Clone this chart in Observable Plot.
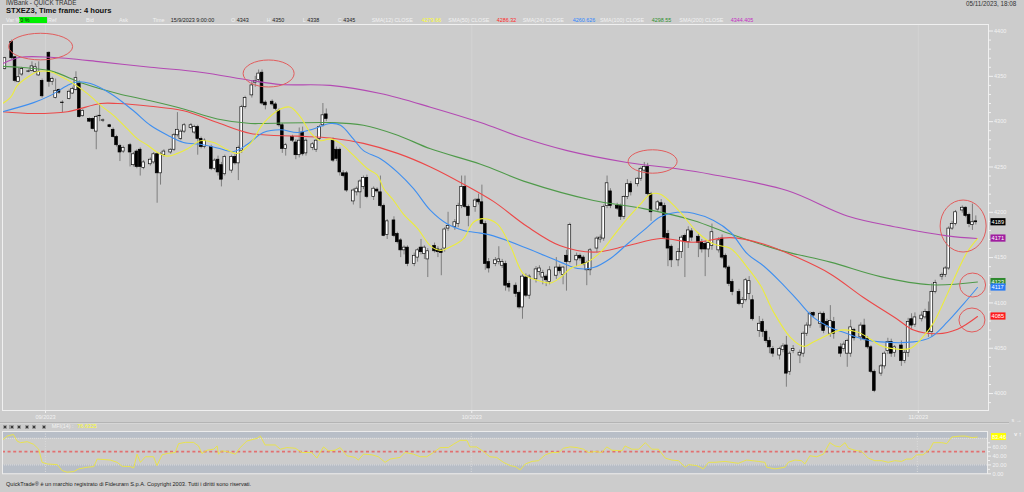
<!DOCTYPE html>
<html><head><meta charset="utf-8">
<script src="https://cdn.jsdelivr.net/npm/d3@7"></script>
<script src="https://cdn.jsdelivr.net/npm/@observablehq/plot@0.6"></script>
<style>
html,body{margin:0;padding:0;background:#cccccc;width:1024px;height:492px;overflow:hidden;font-family:"Liberation Sans",Arial,sans-serif;}
#root{position:relative;width:1024px;height:492px;}
.t{position:absolute;white-space:nowrap;line-height:1;}
.p{position:absolute;left:0;}
</style></head><body><div id="root"></div><script>
// ---------- DATA ----------
// 4-hour bar slots (6 slots per trading day), prices
const candleSlot = [0,2,3,4,5, 7,8,9,10,11, 13,14,15,16,17, 19,20,21,22,23, 25,26,27,28,29, 31,32,33,34,35, 37,38,39,40,41, 43,44,45,46,47, 49,50,51,52,53, 55,56,57,58,59, 61,62,63,64,65, 67,68,69,70,71, 73,74,75,76,77, 79,80,81,82,83, 85,86,87,88,89, 91,92,93,94,95, 97,98,99,100,101, 103,104,105,106,107, 109,110,111,112,113, 115,116,117,118,119, 121,122,123,124,125, 127,128,129,130,131, 133,134,135,136,137, 139,140,141,142,143, 145,146,147,148,149, 151,152,153,154,155, 157,158,159,160,161, 163,164,165,166,167, 169,170,171,172,173, 175,176,177,178,179, 181,182,183,184,185, 187,188,189,190,191, 193,194,195,196,197, 199,200,201,202,203, 205,206,207,208,209, 211,212,213,214,215, 217,218,219,220,221, 223,224,225,226,227, 229,230,231,232,233, 235,236,237,238,239, 241,242,243,244,245, 247,248,249,250,251, 253,254,255,256,257, 259,260,261,262,263, 265,266,267,268,269, 271,272,273,274,275, 277,278,279,280,281, 283,284,285,286,287];
const candleOpen = [4358,4388,4371,4344,4352, 4355,4356,4355,4351,4345, 4376,4344,4326,4335,4321, 4325,4331,4335,4342,4306, 4303,4303,4289,4306,4301, 4296,4291,4283,4273,4267, 4274,4252,4267,4269,4249, 4253,4255,4264,4243,4263, 4266,4269,4285,4281,4289, 4293,4288,4294,4281,4272, 4272,4248,4258,4252,4242, 4246,4261,4254,4268,4316, 4329,4343,4346,4354,4321, 4322,4319,4312,4296,4270, 4283,4277,4263,4288,4265, 4271,4269,4281,4296,4308, 4279,4269,4269,4243,4243, 4212,4222,4222,4228,4238, 4217,4225,4222,4207,4175, 4191,4176,4169,4158,4161, 4143,4150,4161,4154,4148, 4163,4159,4158,4160,4182, 4184,4187,4207,4228,4206, 4206,4214,4211,4187,4145, 4143,4145,4141,4143,4121, 4119,4111,4095,4128,4108, 4126,4134,4128,4129,4123, 4130,4139,4131,4152,4145, 4147,4152,4150,4136,4136, 4160,4170,4171,4207,4223, 4207,4207,4195,4217,4231, 4231,4237,4246,4250,4220, 4203,4210,4207,4176,4162, 4147,4156,4174,4167,4179, 4173,4167,4165,4159,4163, 4158,4171,4152,4139,4123, 4112,4099,4103,4110,4103, 4069,4079,4068,4058,4049, 4042,4048,4053,4024,4047, 4042,4044,4066,4075,4089, 4077,4088,4079,4066,4079, 4051,4049,4044,4044,4070, 4062,4075,4060,4051,4024, 4022,4030,4047,4057,4045, 4053,4036,4045,4082,4076, 4082,4084,4090,4068,4112, 4129,4131,4138,4182,4187, 4202,4205,4197,4186,4190];
const candleHigh = [4371,4390,4372,4359,4360, 4357,4366,4364,4366,4347, 4377,4349,4347,4336,4323, 4335,4338,4355,4345,4313, 4304,4304,4307,4320,4303, 4297,4293,4285,4275,4273, 4276,4266,4269,4271,4257, 4260,4266,4266,4266,4269, 4270,4287,4310,4291,4298, 4298,4296,4296,4283,4281, 4274,4259,4262,4255,4263, 4263,4264,4273,4318,4328, 4345,4350,4357,4357,4323, 4324,4321,4314,4298,4276, 4285,4280,4293,4294,4281, 4277,4281,4296,4320,4314, 4282,4272,4271,4246,4245, 4226,4228,4236,4240,4241, 4228,4227,4240,4209,4192, 4195,4178,4171,4163,4163, 4155,4160,4170,4163,4160, 4166,4162,4160,4183,4200, 4192,4210,4240,4240,4208, 4215,4220,4230,4190,4149, 4150,4162,4148,4146,4124, 4122,4113,4131,4132,4131, 4140,4141,4136,4131,4140, 4150,4142,4140,4158,4188, 4155,4154,4152,4146,4160, 4173,4175,4208,4240,4226, 4210,4209,4218,4236,4234, 4238,4250,4255,4254,4222, 4213,4214,4210,4180,4164, 4160,4174,4176,4184,4182, 4176,4170,4168,4168,4187, 4172,4175,4154,4141,4126, 4115,4106,4127,4129,4108, 4085,4082,4070,4062,4052, 4051,4055,4063,4046,4053, 4048,4068,4078,4090,4090, 4090,4090,4082,4097,4084, 4055,4057,4060,4081,4072, 4078,4082,4063,4053,4026, 4032,4046,4061,4060,4053, 4058,4048,4083,4088,4089, 4090,4093,4101,4121,4125, 4133,4140,4184,4190,4202, 4207,4206,4199,4209,4196];
const candleLow = [4357,4368,4343,4343,4350, 4354,4355,4354,4350,4326, 4338,4340,4325,4330,4310, 4324,4330,4334,4304,4305, 4299,4291,4269,4300,4299, 4293,4282,4272,4256,4265, 4250,4250,4248,4240,4247, 4251,4253,4210,4230,4261, 4264,4267,4283,4279,4287, 4291,4286,4263,4270,4270, 4246,4246,4240,4228,4240, 4243,4252,4235,4265,4314, 4326,4338,4343,4318,4313, 4317,4312,4294,4265,4262, 4277,4258,4260,4262,4262, 4268,4266,4279,4294,4300, 4255,4256,4240,4238,4222, 4208,4218,4204,4225,4215, 4213,4221,4205,4173,4170, 4172,4165,4150,4153,4140, 4140,4145,4153,4148,4128, 4155,4150,4130,4156,4179, 4180,4183,4204,4204,4184, 4200,4208,4186,4136,4133, 4140,4142,4138,4113,4112, 4106,4093,4082,4106,4104, 4122,4130,4120,4118,4120, 4126,4132,4120,4113,4143, 4140,4146,4141,4119,4130, 4155,4166,4168,4204,4204, 4202,4191,4192,4214,4218, 4228,4234,4244,4218,4190, 4200,4200,4170,4140,4139, 4140,4149,4128,4160,4168, 4150,4155,4129,4150,4158, 4155,4148,4137,4118,4108, 4097,4094,4101,4103,4080, 4062,4062,4055,4044,4040, 4037,4045,4007,4020,4044, 4033,4040,4063,4072,4083, 4072,4066,4072,4062,4060, 4040,4046,4029,4040,4058, 4058,4058,4049,4022,4001, 4019,4027,4043,4040,4040, 4030,4033,4040,4071,4073, 4079,4082,4062,4062,4110, 4125,4128,4136,4180,4185, 4199,4194,4183,4180,4186];
const candleClose = [4370,4370,4345,4349,4358, 4355.5,4361,4360,4355,4328, 4344,4347,4334,4332,4320.5, 4333,4336,4348,4305,4312, 4300,4292,4305,4306.5,4301.5, 4294,4283,4274,4266,4271, 4266,4264,4250,4250,4255, 4258,4264,4243,4264,4267, 4269,4285,4291,4289,4296, 4296,4294,4281,4272,4279, 4248,4257,4244,4236,4261, 4261,4254,4271,4316,4326, 4340,4345,4353,4320,4318, 4319,4314,4296,4270,4274, 4279,4263,4279,4264,4279, 4275,4279,4294,4307,4303, 4257,4259,4244,4240,4224, 4224,4226,4234,4238,4217, 4226,4223,4207,4174,4190, 4174,4167,4158,4161,4143, 4152,4158,4156,4161,4157, 4157,4156,4155,4181,4185, 4189,4207,4228,4206,4196, 4213,4211,4187,4143,4138, 4147,4148,4145,4119,4117, 4110,4095,4129,4108,4129, 4137,4138,4133,4125,4136, 4139,4135,4139,4145,4186, 4152,4149,4143,4144,4158, 4171,4172,4206,4232,4207, 4204,4195,4217,4231,4222, 4237,4248,4250,4220,4200, 4211,4207,4172,4160,4147, 4156,4172,4167,4180,4172, 4166,4159,4159,4166,4178, 4169,4150,4139,4121,4112, 4099,4103,4125,4124,4082, 4077,4068,4058,4051,4044, 4049,4052,4022,4044,4049, 4045,4066,4075,4088,4086, 4088,4069,4075,4080,4066, 4044,4054,4058,4073,4061, 4075,4060,4051,4024,4003, 4030,4044,4057,4044,4051, 4036,4045,4079,4075,4084, 4086,4090,4068,4112,4122, 4131,4138,4182,4187,4200, 4205,4196,4187,4189,4189];

// moving averages (slot, value)
const sma200Slot = [-0.7,4.6,13.5,28.3,43.0,57.8,72.6,81.5,96.2,111.0,125.8,140.6,152.4,166.2,183.9,198.7,208.6,231.2,249.0,263.8,278.5,287.4];
const sma200Val  = [4364,4371,4371,4366,4360,4354.6,4345.5,4341,4340,4331,4316,4299,4283,4268,4255,4248,4242,4224,4196,4183.5,4174,4171];
const sma100Slot = [-0.7,4.6,13.5,23.2,33.3,43.0,52.8,62.8,72.6,76.4,96.2,106.0,116.1,125.8,140.6,154.5,174.0,188.8,203.5,214.5,229.3,244.0,258.8,273.6,287.5];
const sma100Val  = [4361,4360,4356,4342,4331,4323,4314,4303,4298,4298,4299,4296,4285,4270,4253,4233,4213,4204,4191,4176,4158,4145,4129,4120,4123];
const sma50Slot = [-0.7,8.5,18.5,28.3,33.3,43.0,52.8,62.8,72.6,86.5,96.2,106.0,116.1,125.8,135.6,144.4,154.5,164.2,174.0,184.0,193.8,203.5,214.5,224.2,234.3,244.0,253.8,263.8,268.6,275.7,281.6,287.5];
const sma50Val  = [4311,4309,4311,4320,4320,4317,4312,4299,4287,4284,4282,4276,4265,4250,4231,4212,4184,4163,4156,4163,4171,4167,4172,4165,4150,4132,4106,4082,4070,4066,4071,4085];
const sma24Slot = [-0.7,8.5,13.5,18.5,21.5,25.3,31.2,38.0,43.0,48.1,52.8,57.8,62.8,67.6,71.7,76.4,81.5,86.5,91.2,96.2,99.2,103.0,106.0,111.0,116.1,120.8,125.8,130.8,135.6,140.6,144.4,154.5,164.2,169.3,174.0,179.0,184.0,188.8,193.8,198.8,203.5,209.5,214.5,219.5,224.2,229.3,234.3,239.0,244.0,249.1,253.8,258.8,268.6,273.6,278.6,283.4,287.5];
const sma24Val  = [4311,4321,4329,4340,4344,4342,4331,4312,4296,4285,4277,4275,4271,4267,4275,4288,4291,4288,4292,4298,4296,4281,4268,4259,4244,4226,4202,4187,4180,4177,4174,4160,4145,4138,4139,4149,4165,4180,4195,4200,4199,4191,4178,4154,4141,4123,4103,4084,4073,4066,4060,4057,4057,4062,4079,4099,4117];
const sma12Slot = [-0.7,1.7,3.7,6.7,9.6,13.5,16.4,19.4,24.4,28.3,32.1,36.2,39.2,42.2,45.1,48.1,51.0,54.0,57.8,61.7,65.8,68.8,72.6,76.4,81.5,84.4,87.4,90.3,93.3,96.2,99.2,103.0,107.2,110.1,112.0,114.9,117.8,122.0,125.8,128.8,131.7,135.6,138.5,141.5,145.6,149.5,153.3,157.4,161.3,164.2,167.2,172.2,176.1,179.9,184.0,187.9,190.8,193.8,196.8,199.7,204.7,209.5,214.5,219.5,223.4,227.2,232.2,236.1,239.0,244.0,247.0,252.0,255.9,258.8,263.8,267.7,271.5,274.5,278.6,281.6,284.6,287.5];
const sma12Val  = [4320,4327,4340,4349,4355,4355,4350,4344,4331,4318,4307,4292,4281,4274,4266,4262,4265,4270,4279,4277,4269,4265,4276,4298,4314,4316,4305,4288,4279,4281,4276,4263,4248,4241,4226,4213,4198,4182,4163,4158,4162,4171,4189,4193,4187,4162,4132,4125,4122,4128,4138,4145,4156,4174,4193,4209,4220,4220,4211,4200,4178,4165,4160,4139,4119,4090,4062,4052,4057,4066,4070,4068,4060,4053,4049,4050,4063,4078,4110,4135,4157,4171];

// MFI(14) (slot, value)
const mfiSlot = [-0.8,0.7,2.5,3.6,4.6,6.6,8.5,10,11,12.5,15.5,16.9,18.4,20.4,21.8,24.3,26.3,27.3,31.2,33.2,34.7,37.1,38.1,39.1,40.1,41.6,44,45,46.5,48,50.4,51.4,53.4,55.8,57.3,58.3,59.8,61.8,62.8,63.2,64.2,65.7,68.2,69.6,71.6,74.6,75.6,77,80,81.5,83.4,85.9,87.9,90.8,92.3,94.3,95.7,97.7,99.2,101.2,103.6,104.6,106.1,108.6,110.5,112.5,114,116.9,118.4,120.9,122.9,124.8,126.8,128.8,131.2,132.7,134.7,136.7,137.6,139.6,141.6,143.5,145.5,147.5,149.5,151,152.5,154,156,157.9,159.9,161.9,163.9,165.3,167.3,169.3,171.2,172.7,174.7,176.6,178.1,179.6,182.6,183.5,185.5,187.5,189.5,191.4,193.4,195.4,197.3,199.3,201.3,202.3,204.7,206.7,208.2,210.1,213.1,217,219.5,222.9,224.9,225.4,227.9,230.8,231.8,233.8,235.7,236.7,238.2,240.2,242.2,244.1,245.6,247.1,248.6,249.6,251.5,253.5,255.5,257.4,259.4,261.4,263.3,265.3,266.8,268.3,269.8,271.7,273.7,274.7,277.2,278.7,280.2,282.7,284.2,286.2,287.7];
const mfiVal  = [75.5,85.1,88.8,74,70.3,72.5,66.6,55.5,25.9,22.2,20.7,7.4,3.6,5.1,11,14.8,16.3,33.3,31.1,25.9,17,16.3,13.3,44.4,25.9,38.5,38.5,18.5,42.9,45.9,48.1,68.1,71,71,62.9,45.9,53.3,55.5,62.9,44.4,51.8,50.3,44.4,59.2,74,80,85.1,65.1,65.1,55.5,59.2,57.7,48.1,48.1,35.5,60.7,51.8,53.3,59.2,40.7,37,31.1,44.4,42.9,38.5,25.9,33.3,37,48.1,44.4,38.5,38.5,48.1,59.2,59.2,66.6,75.5,75.5,60.7,60.7,50.3,38.5,37,25.9,18.5,16.3,8.8,22.2,28,29.6,42.9,48.1,48.1,57.7,60.7,59.2,55.5,48.1,50.3,48.1,60.7,53.3,51.8,62.9,55.5,55.5,70.3,55.5,55.5,35.5,31.1,29.6,14.8,20.7,18.5,11,25.9,25.9,28,23.7,31.1,28,25.9,14.8,11,14.8,25.9,31.1,29.6,22.2,40.7,38.5,44.4,70.3,62.9,60.7,70.3,57.7,53.3,50.3,35.5,29.6,29.6,25.9,29.6,28,33.3,33.3,42.9,42.9,55.5,70.3,70.3,68.1,83,85.1,85.1,81.5,83];
const mfiLevels = [20, 50, 80];
const mfiTicks = [0, 20, 40, 60];
const mfiLastLabel = "83.46";

// axis ticks and labels
const monthSlots = [12, 138, 270];
const monthLabels = ["09/2023", "10/2023", "11/2023"];
const priceTicks = [4000, 4050, 4100, 4150, 4200, 4250, 4300, 4350, 4400];
const priceMinorTicks = d3.range(3990, 4410, 10).filter(v => v % 50 !== 0);

// highlighted zones (centre in slot / price)
const zoneSlot  = [10.7, 78.1, 191.6, 283.4, 286.2, 286.0];
const zonePrice = [4382.3, 4352.6, 4255.5, 4184.3, 4119.2, 4080.6];

// ---------- STYLE ----------
const FONT = '"Liberation Sans", Arial, sans-serif';
const LIGHT = "#f2f2f2";
const C12 = "#ecec3c", C24 = "#3f8ff0", C50 = "#ec4848", C100 = "#4f9a4a", C200 = "#b34ab3";
const zoneRadii = [[32,13.3],[25.5,13.5],[24.5,11.7],[23,26],[13,12],[13,12]];
const X_DOMAIN = [-0.71, 290.75];

const root = document.getElementById("root");
function txt(s, x, yc, size, color, extra = {}) {
  const d = document.createElement("div");
  d.className = "t";
  d.textContent = s;
  d.style.left = x + "px";
  d.style.top = (yc - size * 0.5) + "px";
  d.style.fontSize = size + "px";
  d.style.color = color;
  if (extra.bold) d.style.fontWeight = "bold";
  root.appendChild(d);
  return d;
}
function box(x, y, w, h, bg) {
  const d = document.createElement("div");
  d.style.cssText = `position:absolute;left:${x}px;top:${y}px;width:${w}px;height:${h}px;background:${bg};`;
  root.appendChild(d);
  return d;
}

// ---------- HEADER ----------
txt("IWBank - QUICK TRADE", 6, 3.6, 6.3, "#333");
txt("STXEZ3, Time frame: 4 hours", 6, 10.8, 7.6, "#111", {bold: true});
txt("05/11/2023, 18:08", 966, 4, 6.3, "#333");
box(19.3, 17.3, 27.4, 6.2, "#00f000");
const infoLabels = [["Var %", 6], ["Ref", 48], ["Bid", 86], ["Ask", 119], ["Time", 152.7], ["O", 231], ["H", 266.7], ["L", 302.7], ["C", 337.7],
  ["SMA(12) CLOSE", 371.7], ["SMA(50) CLOSE", 448.3], ["SMA(24) CLOSE", 522.7], ["SMA(100) CLOSE", 600], ["SMA(200) CLOSE", 679.3]];
infoLabels.forEach(([s, x]) => txt(s, x, 20.6, 5.4, LIGHT));
txt("0 %", 20.3, 20.6, 5.4, "#111");
const infoValues = [["15/9/2023 9:00:00", 170.7, "#222"], ["4343", 236.7, "#222"], ["4350", 272.3, "#222"], ["4338", 307.3, "#222"], ["4345", 343.3, "#222"],
  ["4279.66", 421.7, "#ffff30"], ["4286.32", 496.7, "#ff2a2a"], ["4260.626", 572.7, "#2f86ff"], ["4298.55", 651.7, "#2f8f2f"], ["4344.405", 730.7, "#c42ac4"]];
infoValues.forEach(([s, x, c]) => txt(s, x, 20.6, 5.4, c));

// ---------- MAIN PRICE PANEL ----------
const candles = candleSlot.map((s, i) => ({s, o: candleOpen[i], h: candleHigh[i], l: candleLow[i], c: candleClose[i]}));
const up = candles.filter(d => d.c >= d.o), down = candles.filter(d => d.c < d.o);
const series = (sl, vl) => sl.map((s, i) => ({s, v: vl[i]}));
const monthLabelOf = new Map(monthSlots.map((s, i) => [s, monthLabels[i]]));
const HW = 0.4;

const main = Plot.plot({
  width: 1024, height: 402,
  marginTop: 2, marginBottom: 14, marginLeft: 2, marginRight: 36,
  style: {background: "transparent", color: LIGHT, fontFamily: FONT, fontSize: "5.6px", overflow: "visible"},
  x: {domain: X_DOMAIN},
  y: {domain: [3981.3, 4407.2]},
  marks: [
    Plot.ruleX(monthSlots, {stroke: "#d3d3d3", strokeWidth: 1}),
    Plot.axisX(monthSlots, {anchor: "bottom", tickSize: 3, tickPadding: 2, tickFormat: d => monthLabelOf.get(d), stroke: LIGHT, fill: LIGHT, fontSize: 5.6}),
    Plot.axisY(priceMinorTicks, {anchor: "right", tickSize: 2, tickFormat: () => "", stroke: LIGHT}),
    Plot.axisY(priceTicks, {anchor: "right", tickSize: 4, tickPadding: 1.5, tickFormat: d => String(d), stroke: LIGHT, fill: LIGHT, fontSize: 5.6}),
    Plot.ruleX(candles, {x: "s", y1: "l", y2: "h", stroke: "#7e7e7e", strokeWidth: 1, clip: true}),
    Plot.rect(up, {x1: d => d.s - HW, x2: d => d.s + HW, y1: "o", y2: "c", fill: "#ffffff", stroke: "#111", strokeWidth: 0.7, clip: true}),
    Plot.rect(down, {x1: d => d.s - HW, x2: d => d.s + HW, y1: "o", y2: "c", fill: "#000000", stroke: "#000", strokeWidth: 0.7, clip: true}),
    Plot.line(series(sma200Slot, sma200Val), {x: "s", y: "v", stroke: C200, strokeWidth: 1.1, curve: "catmull-rom", clip: true}),
    Plot.line(series(sma100Slot, sma100Val), {x: "s", y: "v", stroke: C100, strokeWidth: 1.1, curve: "catmull-rom", clip: true}),
    Plot.line(series(sma50Slot, sma50Val), {x: "s", y: "v", stroke: C50, strokeWidth: 1.1, curve: "catmull-rom", clip: true}),
    Plot.line(series(sma24Slot, sma24Val), {x: "s", y: "v", stroke: C24, strokeWidth: 1.1, curve: "catmull-rom", clip: true}),
    Plot.line(series(sma12Slot, sma12Val), {x: "s", y: "v", stroke: C12, strokeWidth: 1.1, curve: "catmull-rom", clip: true}),
    Plot.frame({stroke: "#f0f0f0", strokeWidth: 1})
  ]
});
const mainWrap = document.createElement("div");
mainWrap.className = "p"; mainWrap.style.top = "22px";
mainWrap.appendChild(main);
root.appendChild(mainWrap);

const NS = "http://www.w3.org/2000/svg";
function svgEl(tag, attrs) {
  const e = document.createElementNS(NS, tag);
  for (const k in attrs) e.setAttribute(k, attrs[k]);
  return e;
}
// annotations + value tags, positioned through the plot's own scales
(function () {
  const sx = main.scale("x"), sy = main.scale("y");
  const g = svgEl("g", {"text-anchor": "start"});
  zoneSlot.forEach((s, i) => {
    g.appendChild(svgEl("ellipse", {cx: sx.apply(s), cy: sy.apply(zonePrice[i]), rx: zoneRadii[i][0], ry: zoneRadii[i][1],
      fill: "none", stroke: "#e25c5c", "stroke-width": 1}));
  });
  const tags = [
    [candleClose[candleClose.length - 1], "#000000"],
    [sma200Val[sma200Val.length - 1], "#a01ea0"],
    [sma100Val[sma100Val.length - 1], "#2f8a2f"],
    [sma24Val[sma24Val.length - 1], "#2a7cf5"],
    [sma50Val[sma50Val.length - 1], "#ff1a1a"]
  ];
  tags.forEach(([v, col]) => {
    const y = sy.apply(v);
    g.appendChild(svgEl("rect", {x: 990.5, y: y - 3.6, width: 15, height: 7.2, fill: col}));
    const t = svgEl("text", {x: 991.6, y: y + 2, fill: "#ffffff", "font-size": 5.6, "font-family": FONT, "text-anchor": "start"});
    t.textContent = String(Math.round(v));
    g.appendChild(t);
  });
  main.appendChild(g);
})();

// separator between panels
box(0, 421.5, 1009, 1.5, "#b4b4b4");
box(0, 423, 1009, 1, "#d6d6d6");

// ---------- MFI PANEL ----------
const icons = [2.7, 9.3, 16.7, 25, 31.7, 41.7];
icons.forEach(x => { box(x, 424.6, 4.4, 4.4, "#9c9c9c"); box(x + 1.2, 425.8, 2, 2, "#3a3a3a"); });
txt("MFI(14) :", 51.7, 426.9, 5.4, LIGHT);
txt("76.6325", 77.3, 426.9, 5.4, "#ffff30");

const mfi = Plot.plot({
  width: 1024, height: 46,
  marginTop: 2, marginBottom: 1.7, marginLeft: 2, marginRight: 37,
  style: {background: "transparent", color: LIGHT, fontFamily: FONT, fontSize: "5.6px", overflow: "visible"},
  x: {domain: X_DOMAIN, axis: null},
  y: {domain: [0, 95.5]},
  marks: [
    Plot.rectY([[80, 100], [0, 20]], {y1: d => d[0], y2: d => d[1], fill: "#b8bec7", clip: true}),
    Plot.ruleY([mfiLevels[0], mfiLevels[2]], {stroke: "#e6e6e6", strokeDasharray: "1,1", strokeWidth: 0.8}),
    Plot.ruleX(monthSlots, {stroke: "#dadada", strokeDasharray: "1,1.5"}),
    Plot.ruleY([mfiLevels[1]], {stroke: "#e27070", strokeDasharray: "3,2.6", strokeWidth: 1.6}),
    Plot.axisY([10, 30, 50, 70], {anchor: "right", tickSize: 2, tickFormat: () => "", stroke: LIGHT}),
    Plot.axisY(mfiTicks, {anchor: "right", tickSize: 3, tickPadding: 2, tickFormat: d => d.toFixed(2), stroke: LIGHT, fill: LIGHT, fontSize: 5.6}),
    Plot.line(series(mfiSlot, mfiVal), {x: "s", y: "v", stroke: "#e8e24e", strokeWidth: 1, clip: true}),
    Plot.frame({stroke: "#ececec", strokeWidth: 1})
  ]
});
const mfiWrap = document.createElement("div");
mfiWrap.className = "p"; mfiWrap.style.top = "429px";
mfiWrap.appendChild(mfi);
root.appendChild(mfiWrap);
(function () {
  const sy = mfi.scale("y");
  const y = sy.apply(mfiVal[mfiVal.length - 1]);
  const g = svgEl("g", {"text-anchor": "start"});
  g.appendChild(svgEl("rect", {x: 991, y: y - 3.5, width: 15, height: 7, fill: "#ffff00"}));
  const t = svgEl("text", {x: 992, y: y + 2, fill: "#ffffff", "font-size": 5.6, "font-family": FONT, "text-anchor": "start"});
  t.textContent = mfiLastLabel;
  g.appendChild(t);
  mfi.appendChild(g);
})();

// ---------- FOOTER ----------
txt("QuickTrade® è un marchio registrato di Fideuram S.p.A. Copyright 2003. Tutti i diritti sono riservati.", 6, 484.3, 5.6, "#222");
</script></body></html>
